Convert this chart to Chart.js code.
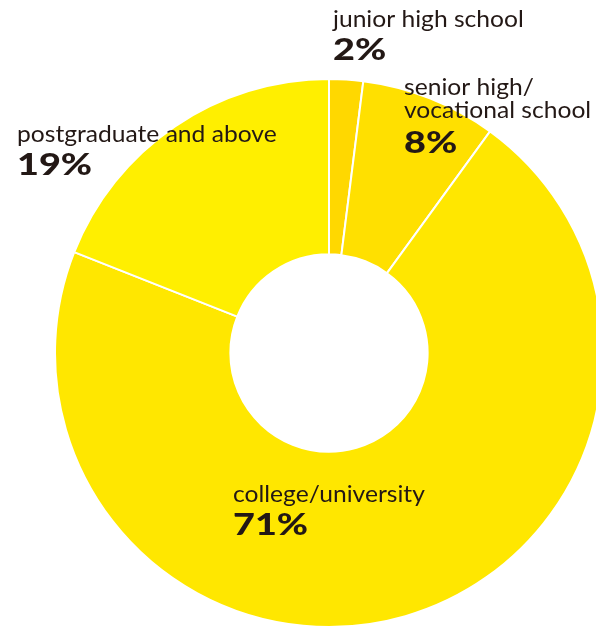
<!DOCTYPE html>
<html>
<head>
<meta charset="utf-8">
<script src="https://cdn.jsdelivr.net/npm/chart.js@4/dist/chart.umd.min.js"></script>
<style>
	html, body { margin: 0; padding: 0; background: #fff; overflow: hidden; }
	#wrap { position: relative; width: 596px; height: 628px; overflow: hidden; }
	#chart-education { position: absolute; left: 0; top: 0; }
</style>
</head>
<body>
<div id="wrap"><canvas id="chart-education" width="658" height="628"></canvas></div>
<script>
const educationLabels = ["junior high school", "senior high/\nvocational school", "college/university", "postgraduate and above"];
const educationShares = [2, 8, 71, 19];
const sliceColors = ["#FFD800", "#FFE000", "#FFE700", "#FFEF00"];

// where each caption block starts (left x, baseline of first line)
const captionSpots = [
	{ x: 333, y: 27 },
	{ x: 404, y: 95 },
	{ x: 233, y: 502 },
	{ x: 17, y: 142 },
];

// draw text stretched sideways a bit, the caption face is wider than Lato
function wideText(ctx, text, x, y, stretch) {
	ctx.save();
	ctx.translate(x, y);
	ctx.scale(stretch, 1);
	ctx.fillText(text, 0, 0);
	ctx.restore();
}

const captionPlugin = {
	id: "captions",
	afterDraw: function (chart) {
		const ctx = chart.ctx;
		const values = chart.data.datasets[0].data;
		ctx.save();
		ctx.fillStyle = "#231815";
		ctx.textAlign = "left";
		ctx.textBaseline = "alphabetic";
		chart.data.labels.forEach(function (label, i) {
			const spot = captionSpots[i];
			const lines = label.split("\n");
			let y = spot.y;
			ctx.font = "400 23px Lato";
			lines.forEach(function (line, k) {
				if (k > 0) y += 23;
				wideText(ctx, line, spot.x, y, 1.07);
			});
			ctx.font = "900 31px Lato";
			wideText(ctx, values[i] + "%", spot.x, y + (lines.length > 1 ? 35 : 33), 1.22);
		});
		ctx.restore();
	},
};

const ctxEdu = document.getElementById("chart-education").getContext("2d");

var chartEdu = new Chart(ctxEdu, {
	type: "doughnut",
	data: {
		labels: educationLabels,
		datasets: [
			{
				data: educationShares,
				backgroundColor: sliceColors,
				borderColor: "#ffffff",
				borderWidth: 2,
				hoverOffset: 0,
			},
		],
	},
	options: {
		responsive: false,
		animation: false,
		cutout: "36%",
		rotation: 0,
		layout: {
			padding: { top: 78, bottom: 0, left: 0, right: 0 },
		},
		plugins: {
			legend: { display: false },
			tooltip: { enabled: false },
		},
	},
	plugins: [captionPlugin],
});
</script>
</body>
</html>
